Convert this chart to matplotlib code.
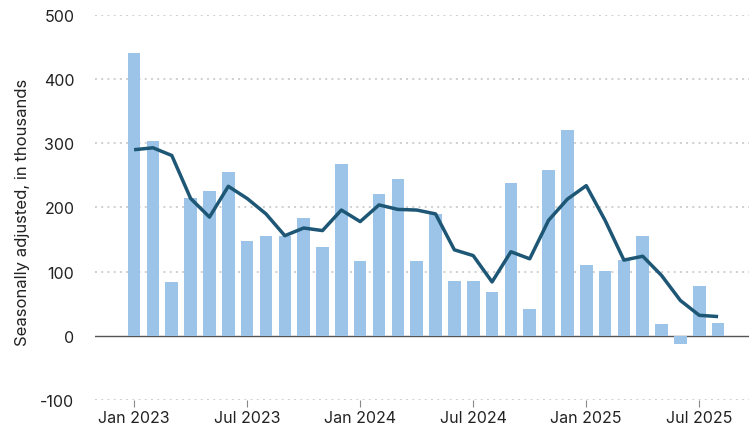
import matplotlib.pyplot as plt

plt.rcParams["font.family"] = ["Inter", "DejaVu Sans"]

BAR_COLOR = "#9bc4e8"
LINE_COLOR = "#1d5775"
GRID = "#cfcfcf"
TEXT = "#222222"

# monthly change, Jan 2023 .. Aug 2025 (thousands)
months = ["Jan 2023", "Feb 2023", "Mar 2023", "Apr 2023", "May 2023", "Jun 2023",
          "Jul 2023", "Aug 2023", "Sep 2023", "Oct 2023", "Nov 2023", "Dec 2023",
          "Jan 2024", "Feb 2024", "Mar 2024", "Apr 2024", "May 2024", "Jun 2024",
          "Jul 2024", "Aug 2024", "Sep 2024", "Oct 2024", "Nov 2024", "Dec 2024",
          "Jan 2025", "Feb 2025", "Mar 2025", "Apr 2025", "May 2025", "Jun 2025",
          "Jul 2025", "Aug 2025"]
monthly = [440, 304, 84, 214, 225, 255, 147, 155, 156, 184, 138, 268,
           116, 221, 245, 116, 190, 86, 86, 68, 238, 42, 258, 321,
           110, 101, 118, 155, 18, -13, 77, 20]
avg3 = [290, 293, 281, 214, 185, 233, 214, 190, 156, 168, 164, 196,
        178, 204, 197, 196, 190, 134, 125, 84, 131, 120, 180, 213,
        234, 180, 118, 124, 94, 55, 32, 30]
tick_labels = ["Jan 2023", "Jul 2023", "Jan 2024", "Jul 2024", "Jan 2025", "Jul 2025"]
yticks = [-100, 0, 100, 200, 300, 400, 500]

x = list(range(len(months)))

fig = plt.figure(figsize=(7.49, 4.31), dpi=100)
ax = fig.add_axes([0.127, 0.0696, 0.873, 0.8934])

for y in yticks:
    if y == 0:
        continue
    ax.axhline(y, color=GRID, linestyle=(0, (1, 2.2)), linewidth=1.4, zorder=0)
ax.axhline(0, color="#555555", linewidth=1.0, zorder=1)

ax.bar(x, monthly, width=0.67, color=BAR_COLOR, zorder=2)
ax.plot(x, avg3, color=LINE_COLOR, linewidth=2.5, zorder=3,
        solid_joinstyle="round", solid_capstyle="butt")

ax.set_xlim(-2.07, 32.64)
ax.set_ylim(-100, 500)
ax.set_yticks(yticks)
ax.set_yticklabels([str(v) for v in yticks], fontsize=11.5, color=TEXT)
ax.set_xticks([months.index(t) for t in tick_labels])
ax.set_xticklabels(tick_labels, fontsize=11.5, color=TEXT)
ax.tick_params(axis="y", length=0, pad=15)
ax.tick_params(axis="x", length=5, width=0.8, color="#888888", pad=2)
for s in ax.spines.values():
    s.set_visible(False)
ax.set_ylabel("Seasonally adjusted, in thousands", fontsize=12, color=TEXT)
ax.yaxis.set_label_coords(-0.1, 0.49)

fig.savefig("out.png", dpi=100, facecolor="white")
